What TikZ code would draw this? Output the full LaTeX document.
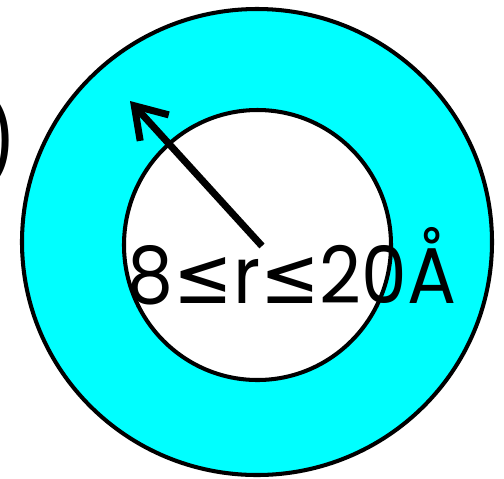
\documentclass[tikz,border=0pt]{standalone}
\usepackage{fontspec}
\setmainfont{Poppins}[FakeStretch=0.92]
\newfontfamily\symfont{DejaVu Sans}[FakeStretch=0.9]
\usetikzlibrary{arrows.meta}
\definecolor{ringcyan}{RGB}{0,255,255}

\begin{document}
\begin{tikzpicture}[x=0.02cm, y=-0.02cm, >={Straight Barb[length=17pt,width=22pt]}]
\useasboundingbox (0,0) rectangle (504,478);
\filldraw[fill=ringcyan, line width=2.3pt] (257,242) ellipse (235 and 233);
\filldraw[fill=white, line width=2.3pt] (257.5,245) ellipse (133.5 and 135);
\coordinate (O) at (262,246);\coordinate (T) at (130,101);
\draw[->, line width=4pt] (O) -- (T);
\node[anchor=base] (lbl) at (292,303) {\fontsize{45}{45}\selectfont 8{\symfont≤}r{\symfont≤}20Å};
\node[anchor=east, inner sep=0pt] (par) at (16,141) {\fontsize{52}{52}\selectfont\sffamily )};
\end{tikzpicture}
\end{document}
